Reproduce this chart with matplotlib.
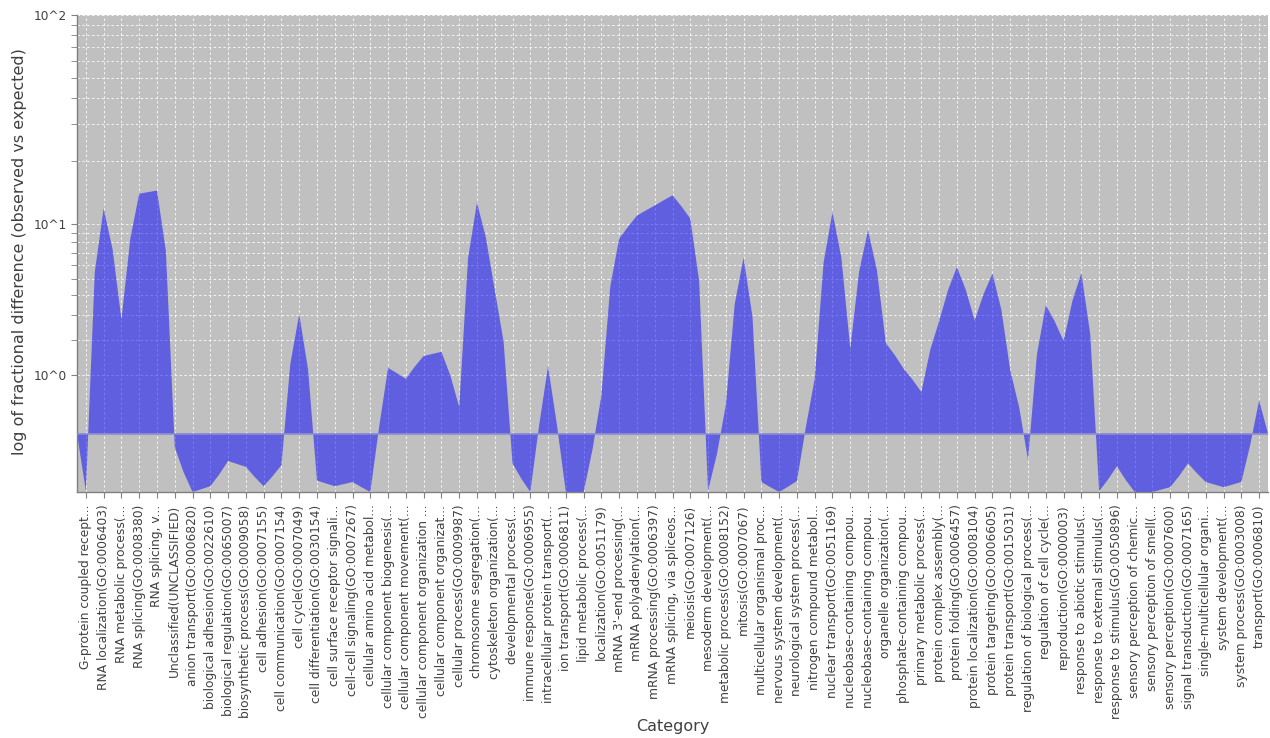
import numpy as np
import matplotlib
matplotlib.use('Agg')
import matplotlib.pyplot as plt
from matplotlib.ticker import FixedLocator, FixedFormatter, NullFormatter

categories = [
    "G-protein coupled recept...", "RNA localization(GO:0006403)", "RNA metabolic process(...",
    "RNA splicing(GO:0008380)", "RNA splicing, v...", "Unclassified(UNCLASSIFIED)",
    "anion transport(GO:0006820)", "biological adhesion(GO:0022610)", "biological regulation(GO:0065007)",
    "biosynthetic process(GO:0009058)", "cell adhesion(GO:0007155)", "cell communication(GO:0007154)",
    "cell cycle(GO:0007049)", "cell differentiation(GO:0030154)", "cell surface receptor signali...",
    "cell-cell signaling(GO:0007267)", "cellular amino acid metabol...", "cellular component biogenesis(...",
    "cellular component movement(...", "cellular component organization ...", "cellular component organizat...",
    "cellular process(GO:0009987)", "chromosome segregation(...", "cytoskeleton organization(...",
    "developmental process(...", "immune response(GO:0006955)", "intracellular protein transport(...",
    "ion transport(GO:0006811)", "lipid metabolic process(...", "localization(GO:0051179)",
    "mRNA 3'-end processing(...", "mRNA polyadenylation(...", "mRNA processing(GO:0006397)",
    "mRNA splicing, via spliceos...", "meiosis(GO:0007126)", "mesoderm development(...",
    "metabolic process(GO:0008152)", "mitosis(GO:0007067)", "multicellular organismal proc...",
    "nervous system development(...", "neurological system process(...", "nitrogen compound metabol...",
    "nuclear transport(GO:0051169)", "nucleobase-containing compou...", "nucleobase-containing compou...",
    "organelle organization(...", "phosphate-containing compou...", "primary metabolic process(...",
    "protein complex assembly(...", "protein folding(GO:0006457)", "protein localization(GO:0008104)",
    "protein targeting(GO:0006605)", "protein transport(GO:0015031)", "regulation of biological process(...",
    "regulation of cell cycle(...", "reproduction(GO:0000003)", "response to abiotic stimulus(...",
    "response to external stimulus(...", "response to stimulus(GO:0050896)", "sensory perception of chemic...",
    "sensory perception of smell(...", "sensory perception(GO:0007600)", "signal transduction(GO:0007165)",
    "single-multicellular organi...", "system development(...", "system process(GO:0003008)",
    "transport(GO:0006810)",
]

values = [
    -0.98, 11.9, 2.79, 14.0, 14.5, -0.18,
    -1.0, -0.87, -0.39, -0.49, -0.87, -0.46,
    3.02, -0.75, -0.87, -0.78, -1.0, 1.18,
    0.92, 1.50, 1.62, 0.38, 12.7, 4.3,
    -0.43, -1.0, 1.22, -1.0, -1.0, 0.58,
    8.4, 11.0, 12.3, 13.75, 10.65, -0.97,
    0.41, 6.59, -0.78, -1.0, -0.76, 0.92,
    11.45, 1.72, 9.29, 1.90, 1.16, 0.645,
    2.72, 5.83, 2.75, 5.35, 1.12, -0.37,
    3.45, 1.97, 5.39, -0.98, -0.48, -1.0,
    -1.0, -0.89, -0.43, -0.78, -0.89, -0.78,
    0.49,
]

y_major = [1, 10, 100]
y_major_labels = ["10^0", "10^1", "10^2"]
y_minor = [2, 3, 4, 5, 6, 7, 8, 9, 20, 30, 40, 50, 60, 70, 80, 90]


def fwd(v):
    v = np.asarray(v, dtype=float)
    a = np.abs(v)
    adj = np.where(a < 10, a + (10 - a) / 10.0, a)
    return np.sign(v) * np.log10(adj)


def inv(f):
    f = np.asarray(f, dtype=float)
    a = 10 ** np.abs(f)
    val = np.where(a < 10, (a - 1) / 0.9, a)
    return np.sign(f) * val


W, H = 1270, 738
fig = plt.figure(figsize=(W / 100, H / 100), dpi=100)
fig.patch.set_facecolor('white')
L, R, T, B = 77, 1268, 15, 492
ax = fig.add_axes([L / W, (H - B) / H, (R - L) / W, (B - T) / H])
ax.set_facecolor('#C0C0C0')
ax.set_yscale('function', functions=(fwd, inv))

n = len(values)
ax.set_xlim(-0.5, n - 0.5)
ax.set_ylim(-1, 100)

# area polygon (JFreeChart style: midpoints between categories, tapered ends)
xs = [-0.5]
ys = [0.0]
for i, v in enumerate(values):
    if i > 0:
        xs.append(i - 0.5)
        ys.append((values[i - 1] + v) / 2.0)
    xs.append(i)
    ys.append(v)
xs.append(n - 0.5)
ys.append(0.0)

# grid
for i in range(n):
    ax.axvline(i, color='white', lw=0.7, ls=(0, (2.5, 2.5)), alpha=0.85, zorder=1)
for yv in y_major + y_minor:
    ax.axhline(yv, color='white', lw=0.7, ls=(0, (2.5, 2.5)), alpha=0.85, zorder=1)

ax.fill(xs, ys, color=(0, 0, 1), alpha=0.5, lw=0, zorder=2)
ax.axhline(0, color='#8C8CD0', lw=1.2, zorder=3)

ax.yaxis.set_major_locator(FixedLocator(y_major))
ax.yaxis.set_major_formatter(FixedFormatter(y_major_labels))
ax.yaxis.set_minor_locator(FixedLocator(y_minor))
ax.yaxis.set_minor_formatter(NullFormatter())

ax.set_xticks(range(n))
ax.set_xticklabels(categories, rotation=90, fontsize=8.8, color='#404040', va='top', ha='center')

ax.tick_params(axis='y', which='both', direction='out', length=4, color='#808080',
               labelsize=8.7, labelcolor='#404040', pad=3)
ax.tick_params(axis='x', which='both', direction='out', length=4, color='#808080', pad=5)

for s in ['top', 'right']:
    ax.spines[s].set_visible(False)
for s in ['left', 'bottom']:
    ax.spines[s].set_color('#808080')
    ax.spines[s].set_linewidth(1.0)

fig.text(20 / W, 1 - 252 / H, 'log of fractional difference (observed vs expected)',
         rotation=90, fontsize=11.5, color='#404040', ha='center', va='center')
fig.text(672.5 / W, 1 - 727 / H, 'Category', fontsize=11.5, color='#404040',
         ha='center', va='center')

fig.savefig('out.png', dpi=100)
